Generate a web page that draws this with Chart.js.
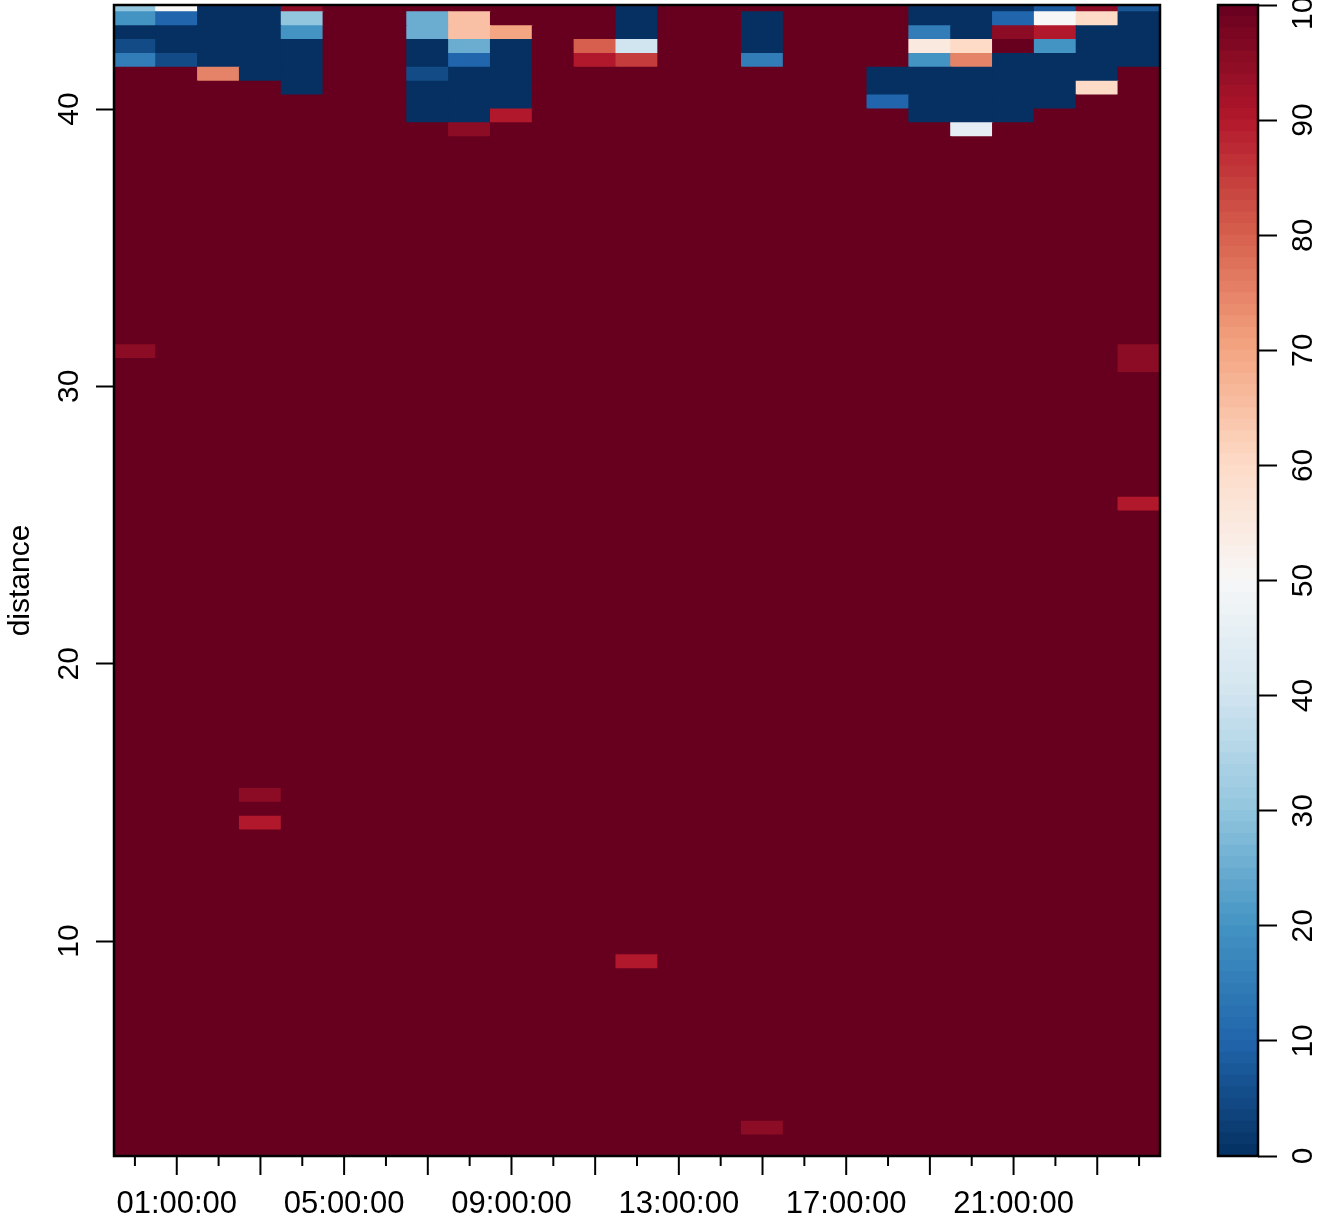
<!DOCTYPE html>
<html>
<head>
<meta charset="utf-8">
<script src="https://cdn.jsdelivr.net/npm/chart.js@4.4.1/dist/chart.umd.min.js"></script>
<style>
  html, body { margin: 0; padding: 0; background: #fff; }
  #wrap { position: relative; width: 1317px; height: 1223px; overflow: hidden; }
  #heat { position: absolute; left: 0; top: 0; }
  #bar { position: absolute; left: 1180px; top: 0; }
</style>
</head>
<body>
<div id="wrap">
  <canvas id="heat" width="1180" height="1223" style="width:1180px;height:1223px"></canvas>
  <canvas id="bar" width="137" height="1223" style="width:137px;height:1223px"></canvas>
</div>
<script>
// time of day (columns)
var hours = ['00:00:00', '01:00:00', '02:00:00', '03:00:00', '04:00:00', '05:00:00', '06:00:00',
  '07:00:00', '08:00:00', '09:00:00', '10:00:00', '11:00:00', '12:00:00', '13:00:00', '14:00:00',
  '15:00:00', '16:00:00', '17:00:00', '18:00:00', '19:00:00', '20:00:00', '21:00:00', '22:00:00',
  '23:00:00', '24:00:00'];
var labeledHours = ['01:00:00', '05:00:00', '09:00:00', '13:00:00', '17:00:00', '21:00:00'];

// lower edge of each distance bin (bins are 0.5 wide)
var distanceLows = [2.0, 2.5, 3.0, 3.5, 4.0, 4.5, 5.0, 5.5, 6.0, 6.5, 7.0, 7.5, 8.0, 8.5, 9.0, 9.5,
  10.0, 10.5, 11.0, 11.5, 12.0, 12.5, 13.0, 13.5, 14.0, 14.5, 15.0, 15.5, 16.0, 16.5, 17.0, 17.5,
  18.0, 18.5, 19.0, 19.5, 20.0, 20.5, 21.0, 21.5, 22.0, 22.5, 23.0, 23.5, 24.0, 24.5, 25.0, 25.5,
  26.0, 26.5, 27.0, 27.5, 28.0, 28.5, 29.0, 29.5, 30.0, 30.5, 31.0, 31.5, 32.0, 32.5, 33.0, 33.5,
  34.0, 34.5, 35.0, 35.5, 36.0, 36.5, 37.0, 37.5, 38.0, 38.5, 39.0, 39.5, 40.0, 40.5, 41.0, 41.5,
  42.0, 42.5, 43.0, 43.5];
var binSize = 0.5;
var yMin = 2.25, yMax = 43.75;
var yTicks = [10, 20, 30, 40];
var barTicks = [0, 10, 20, 30, 40, 50, 60, 70, 80, 90, 100];

// most cells sit at the top of the scale
var background = 100;

// the busy rows near the top, one value per hour
var topLows = [43.5, 43.0, 42.5, 42.0, 41.5, 41.0, 40.5, 40.0, 39.5, 39.0];
var topValues = [
  [30, 50, 0, 0, 95, 100, 100, 100, 100, 100, 100, 100, 0, 100, 100, 100, 100, 100, 100, 0, 0, 0, 8, 95, 7],
  [20, 10, 0, 0, 30, 100, 100, 25, 65, 100, 100, 100, 0, 100, 100, 0, 100, 100, 100, 0, 0, 10, 50, 60, 0],
  [0, 0, 0, 0, 20, 100, 100, 25, 65, 70, 100, 100, 0, 100, 100, 0, 100, 100, 100, 15, 0, 95, 90, 0, 0],
  [5, 0, 0, 0, 0, 100, 100, 0, 25, 0, 100, 80, 40, 100, 100, 0, 100, 100, 100, 55, 60, 100, 20, 0, 0],
  [15, 5, 0, 0, 0, 100, 100, 0, 10, 0, 100, 90, 85, 100, 100, 15, 100, 100, 100, 20, 75, 0, 0, 0, 0],
  [100, 100, 75, 0, 0, 100, 100, 5, 0, 0, 100, 100, 100, 100, 100, 100, 100, 100, 0, 0, 0, 0, 0, 0, 100],
  [100, 100, 100, 100, 0, 100, 100, 0, 0, 0, 100, 100, 100, 100, 100, 100, 100, 100, 0, 0, 0, 0, 0, 60, 100],
  [100, 100, 100, 100, 100, 100, 100, 0, 0, 0, 100, 100, 100, 100, 100, 100, 100, 100, 10, 0, 0, 0, 0, 100, 100],
  [100, 100, 100, 100, 100, 100, 100, 0, 0, 90, 100, 100, 100, 100, 100, 100, 100, 100, 100, 0, 0, 0, 100, 100, 100],
  [100, 100, 100, 100, 100, 100, 100, 100, 95, 100, 100, 100, 100, 100, 100, 100, 100, 100, 100, 100, 45, 100, 100, 100, 100]
];

// odd cells further down: [hour index, bin low, value]
var isolatedCells = [
  [0, 31.0, 95], [24, 31.0, 95], [24, 30.5, 95], [24, 25.5, 90],
  [3, 15.0, 95], [3, 14.0, 90], [12, 9.0, 90], [15, 3.0, 95]
];

// RdBu, 0 -> 100
var palette = ['#053061', '#2166AC', '#4393C3', '#92C5DE', '#D1E5F0', '#F7F7F7',
  '#FDDBC7', '#F4A582', '#D6604D', '#B2182B', '#67001F'];

function hexRgb(h) {
  return [parseInt(h.substr(1, 2), 16), parseInt(h.substr(3, 2), 16), parseInt(h.substr(5, 2), 16)];
}
function colorFor(v) {
  var t = Math.max(0, Math.min(100, v)) / 100 * (palette.length - 1);
  var i = Math.min(Math.floor(t), palette.length - 2);
  var f = t - i;
  var a = hexRgb(palette[i]), b = hexRgb(palette[i + 1]);
  return 'rgb(' + a.map(function (c, k) { return Math.round(c + (b[k] - c) * f); }).join(',') + ')';
}

function rowValues(low) {
  var idx = topLows.indexOf(low);
  var row = idx >= 0 ? topValues[idx].slice() : hours.map(function () { return background; });
  isolatedCells.forEach(function (c) { if (c[1] === low) row[c[0]] = c[2]; });
  return row;
}

var font = { family: '"Liberation Sans", Arial, Helvetica, sans-serif', size: 30 };
var xFont = { family: '"Liberation Sans", Arial, Helvetica, sans-serif', size: 31 };

var heatSets = distanceLows.map(function (low) {
  var vals = rowValues(low);
  return {
    data: vals.map(function () { return [low, low + binSize]; }),
    backgroundColor: vals.map(colorFor),
    borderWidth: 0,
    grouped: false,
    barPercentage: 1,
    categoryPercentage: 1,
    inflateAmount: 0.6
  };
});

var frame = {
  id: 'frame',
  afterDraw: function (chart) {
    var a = chart.chartArea, c = chart.ctx;
    c.save();
    c.strokeStyle = '#000';
    c.lineWidth = 2.5;
    c.strokeRect(a.left, a.top, a.right - a.left, a.bottom - a.top);
    c.restore();
  }
};

// R style hour ticks: long on odd hours, short on even ones
var hourTicks = {
  id: 'hourTicks',
  afterDraw: function (chart) {
    var s = chart.scales.x, c = chart.ctx, b = chart.chartArea.bottom;
    c.save();
    c.strokeStyle = '#000';
    c.lineWidth = 2;
    s.ticks.forEach(function (t, i) {
      var px = s.getPixelForTick(i);
      c.beginPath();
      c.moveTo(px, b);
      c.lineTo(px, b + (i % 2 ? 19 : 10));
      c.stroke();
    });
    c.restore();
  }
};

new Chart(document.getElementById('heat'), {
  type: 'bar',
  data: { labels: hours, datasets: heatSets },
  options: {
    responsive: false,
    animation: false,
    events: [],
    layout: { padding: { left: 0, top: 5, right: 20, bottom: 0 } },
    plugins: { legend: { display: false }, tooltip: { enabled: false } },
    scales: {
      x: {
        type: 'category',
        offset: true,
        border: { display: false },
        grid: { drawOnChartArea: false, tickLength: 19, tickColor: 'rgba(0,0,0,0)' },
        ticks: {
          autoSkip: false, minRotation: 0, maxRotation: 0, padding: 11, color: '#000', font: xFont,
          callback: function (v, i) { return labeledHours.indexOf(hours[i]) >= 0 ? hours[i] : ''; }
        },
        afterFit: function (s) { s.height = 67; s.paddingLeft = 0; s.paddingRight = 0; }
      },
      y: {
        type: 'linear',
        min: yMin,
        max: yMax,
        afterBuildTicks: function (s) { s.ticks = yTicks.map(function (v) { return { value: v }; }); },
        border: { display: false },
        grid: { drawOnChartArea: false, tickLength: 18, tickColor: '#000', tickWidth: 2 },
        ticks: { minRotation: 90, maxRotation: 90, crossAlign: 'center', padding: 10, color: '#000', font: font },
        title: { display: true, text: 'distance', color: '#000', font: font, padding: { top: 3, bottom: 0 } },
        afterFit: function (s) { s.width = 114; s.paddingTop = 0; s.paddingBottom = 0; }
      }
    }
  },
  plugins: [frame, hourTicks]
});

// colour key
var steps = [];
for (var v = 0; v < 100; v++) steps.push(v);

new Chart(document.getElementById('bar'), {
  type: 'bar',
  data: {
    labels: [''],
    datasets: steps.map(function (v) {
      return {
        data: [[v, v + 1]],
        backgroundColor: colorFor(v + 0.5),
        borderWidth: 0,
        grouped: false,
        barPercentage: 1,
        categoryPercentage: 1,
        inflateAmount: 0.6
      };
    })
  },
  options: {
    responsive: false,
    animation: false,
    events: [],
    layout: { padding: { left: 38, top: 5, right: 0, bottom: 67 } },
    plugins: { legend: { display: false }, tooltip: { enabled: false } },
    scales: {
      x: { display: false, offset: true },
      y: {
        position: 'right',
        min: 0,
        max: 100,
        afterBuildTicks: function (s) { s.ticks = barTicks.map(function (v) { return { value: v }; }); },
        border: { display: false },
        grid: { drawOnChartArea: false, tickLength: 19, tickColor: '#000', tickWidth: 2 },
        ticks: { minRotation: 90, maxRotation: 90, crossAlign: 'center', padding: 2, color: '#000', font: font },
        afterFit: function (s) { s.width = 59; s.paddingTop = 0; s.paddingBottom = 0; }
      }
    }
  },
  plugins: [frame]
});
</script>
</body>
</html>
